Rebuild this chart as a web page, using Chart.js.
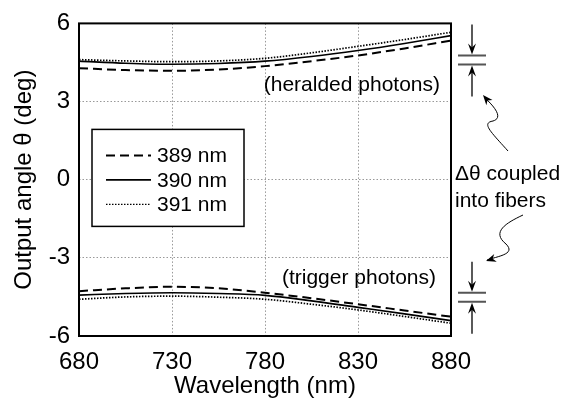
<!DOCTYPE html>
<html>
<head>
<meta charset="utf-8">
<script src="https://cdn.jsdelivr.net/npm/chart.js@4"></script>
<style>
  html, body { margin: 0; padding: 0; background: #fff; }
</style>
</head>
<body>
<canvas id="grafico" width="580" height="401"></canvas>
<script>
// comprimentos de onda (nm)
const wavelengths = [680, 705, 730, 755, 780, 805, 830, 855, 880];

// fotons anunciados (heralded), angulo em graus
const heralded389 = [4.28, 4.21, 4.18, 4.23, 4.36, 4.55, 4.77, 5.04, 5.34];
const heralded390 = [4.55, 4.47, 4.43, 4.46, 4.55, 4.73, 4.96, 5.23, 5.53];
const heralded391 = [4.61, 4.56, 4.53, 4.56, 4.66, 4.87, 5.12, 5.38, 5.66];

// fotons de disparo (trigger)
const trigger389 = [-4.28, -4.17, -4.11, -4.17, -4.34, -4.55, -4.78, -5.02, -5.26];
const trigger390 = [-4.43, -4.37, -4.34, -4.37, -4.44, -4.65, -4.90, -5.15, -5.41];
const trigger391 = [-4.59, -4.50, -4.47, -4.51, -4.59, -4.78, -5.00, -5.25, -5.51];

const legendLabels = ['389 nm', '390 nm', '391 nm'];
const xTicks = [680, 730, 780, 830, 880];
const yTicks = [-6, -3, 0, 3, 6];

// marcas de Δθ (valores no eixo y)
const heraldedMarks = [4.77, 4.42];
const triggerMarks = [-4.34, -4.69];

const FONT = '"Liberation Sans", Arial, Helvetica, sans-serif';

const estilos = [
  { borderDash: [9, 5], borderWidth: 2 },
  { borderDash: [], borderWidth: 1.6 },
  { borderDash: [1.5, 1.5], borderWidth: 1.7 }
];

function pontos(ys) {
  return wavelengths.map((x, i) => ({ x: x, y: ys[i] }));
}

function serie(label, ys, k) {
  return {
    label: label,
    data: pontos(ys),
    borderColor: '#000',
    borderWidth: estilos[k].borderWidth,
    borderDash: estilos[k].borderDash,
    pointRadius: 0,
    fill: false,
    cubicInterpolationMode: 'monotone'
  };
}

function seta(ctx, x, y1, y2) {
  // linha de y1 ate a ponta em y2
  const dir = y2 > y1 ? 1 : -1;
  ctx.beginPath();
  ctx.moveTo(x, y1);
  ctx.lineTo(x, y2 - dir * 6);
  ctx.stroke();
  ctx.beginPath();
  ctx.moveTo(x, y2);
  ctx.lineTo(x - 4, y2 - dir * 11);
  ctx.lineTo(x, y2 - dir * 7);
  ctx.lineTo(x + 4, y2 - dir * 11);
  ctx.closePath();
  ctx.fill();
}

function pontaCurva(ctx, x, y, ang) {
  ctx.save();
  ctx.translate(x, y);
  ctx.rotate(ang);
  ctx.beginPath();
  ctx.moveTo(0, 0);
  ctx.lineTo(-10, -4);
  ctx.lineTo(-7, 0);
  ctx.lineTo(-10, 4);
  ctx.closePath();
  ctx.fill();
  ctx.restore();
}

const extras = {
  id: 'extras',
  afterDraw(chart) {
    const ctx = chart.ctx;
    const a = chart.chartArea;
    const y = chart.scales.y;
    ctx.save();

    // moldura
    ctx.strokeStyle = '#000';
    ctx.lineWidth = 2;
    ctx.setLineDash([]);
    ctx.strokeRect(a.left, a.top, a.right - a.left, a.bottom - a.top);

    // legenda
    const lx = a.left + 13, ly = a.top + 106, lw = 152, lh = 97;
    ctx.fillStyle = '#fff';
    ctx.fillRect(lx, ly, lw, lh);
    ctx.lineWidth = 1.5;
    ctx.strokeRect(lx, ly, lw, lh);
    ctx.font = '21px ' + FONT;
    ctx.textBaseline = 'middle';
    ctx.textAlign = 'left';
    legendLabels.forEach((t, i) => {
      const ry = ly + 26 + i * 24.5;
      ctx.beginPath();
      ctx.setLineDash(estilos[i].borderDash);
      ctx.lineWidth = i === 2 ? 1.2 : estilos[i].borderWidth;
      ctx.moveTo(lx + 14, ry);
      ctx.lineTo(lx + 59, ry);
      ctx.stroke();
      ctx.setLineDash([]);
      ctx.fillStyle = '#000';
      ctx.fillText(t, lx + 65, ry + 1);
    });

    // textos
    ctx.textAlign = 'right';
    ctx.fillText('(heralded photons)', a.right - 11, 85);
    ctx.fillText('(trigger photons)', a.right - 15, 278);
    ctx.textAlign = 'left';
    ctx.fillText('\u0394\u03b8 coupled', a.right + 4, 174);
    ctx.fillText('into fibers', a.right + 4, 201);

    // setas de Δθ
    const sx = a.right + 21;
    ctx.fillStyle = '#000';
    [heraldedMarks, triggerMarks].forEach((m, j) => {
      const yA = y.getPixelForValue(m[0]);
      const yB = y.getPixelForValue(m[1]);
      ctx.strokeStyle = '#555';
      ctx.lineWidth = 2;
      ctx.beginPath();
      ctx.moveTo(a.right + 7, yA); ctx.lineTo(a.right + 35, yA);
      ctx.moveTo(a.right + 7, yB); ctx.lineTo(a.right + 35, yB);
      ctx.stroke();
      ctx.strokeStyle = '#000';
      ctx.lineWidth = 1.3;
      seta(ctx, sx, yA - 31, yA - 1);
      seta(ctx, sx, yB + 32, yB + 1);
    });

    // setas onduladas
    ctx.lineWidth = 1;
    ctx.beginPath();
    ctx.moveTo(a.right + 57, 151);
    ctx.bezierCurveTo(a.right + 40, 132, a.right + 30, 123, a.right + 42, 121);
    ctx.bezierCurveTo(a.right + 52, 118, a.right + 45, 108, a.right + 33, 97);
    ctx.stroke();
    pontaCurva(ctx, a.right + 32, 95, Math.atan2(-12, -10));

    ctx.beginPath();
    ctx.moveTo(a.right + 72, 215);
    ctx.bezierCurveTo(a.right + 55, 223, a.right + 40, 232, a.right + 55, 244);
    ctx.bezierCurveTo(a.right + 65, 254, a.right + 48, 256, a.right + 36, 260);
    ctx.stroke();
    pontaCurva(ctx, a.right + 35, 261, Math.atan2(4, -12));

    ctx.restore();
  }
};

const ctx = document.getElementById('grafico').getContext('2d');
const myChart = new Chart(ctx, {
  type: 'line',
  data: {
    datasets: [
      serie('389 nm', heralded389, 0),
      serie('390 nm', heralded390, 1),
      serie('391 nm', heralded391, 2),
      serie('389 nm', trigger389, 0),
      serie('390 nm', trigger390, 1),
      serie('391 nm', trigger391, 2)
    ]
  },
  options: {
    responsive: false,
    animation: false,
    layout: { padding: { left: 0, right: 129, top: 22, bottom: 0 } },
    plugins: { legend: { display: false }, tooltip: { enabled: false } },
    scales: {
      x: {
        type: 'linear',
        min: 680,
        max: 880,
        afterBuildTicks: s => { s.ticks = xTicks.map(v => ({ value: v })); },
        ticks: { color: '#000', font: { size: 24, family: FONT }, padding: 12, maxRotation: 0 },
        grid: { color: '#999', lineWidth: 1, drawTicks: false },
        border: { display: false, dash: [1.5, 2] },
        title: { display: true, text: 'Wavelength (nm)', color: '#000', font: { size: 24, family: FONT }, padding: { top: 0, bottom: 0 } },
        afterFit: s => { s.height = 65; }
      },
      y: {
        min: -6,
        max: 6,
        afterBuildTicks: s => { s.ticks = yTicks.map(v => ({ value: v })); },
        ticks: { color: '#000', font: { size: 24, family: FONT }, padding: 9 },
        grid: { color: '#999', lineWidth: 1, drawTicks: false },
        border: { display: false, dash: [1.5, 2] },
        title: { display: true, text: 'Output angle \u03b8 (deg)', color: '#000', font: { size: 24, family: FONT }, padding: { top: 10, bottom: 0 } },
        afterFit: s => { s.width = 79; }
      }
    }
  },
  plugins: [extras]
});
</script>
</body>
</html>
